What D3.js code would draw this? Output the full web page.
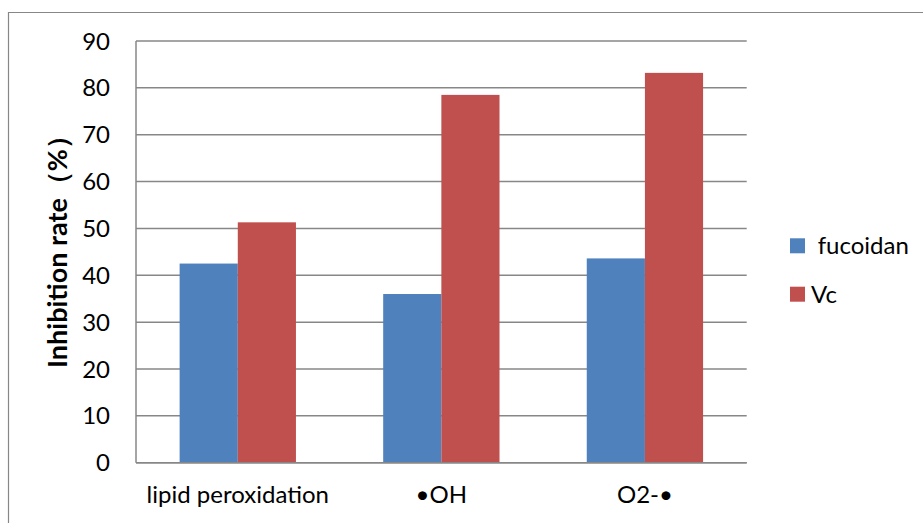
<!DOCTYPE html>
<html>
<head>
<meta charset="utf-8">
<script src="https://cdn.jsdelivr.net/npm/d3@7"></script>
<style>
  html, body { margin: 0; padding: 0; background: #fff; }
  svg { display: block; }
  text { font-family: Lato, "Open Sans", "Liberation Sans", sans-serif; fill: #000; }
</style>
</head>
<body>
<svg id="chart" width="923" height="523"></svg>
<script>
// Inhibition rate of fucoidan vs. vitamin C across three assays
const categories = ["lipid peroxidation", "\u2022OH", "O2-\u2022"];
const seriesNames = ["fucoidan", "Vc"];
const fucoidanValues = [42.5, 36.0, 43.6];
const vcValues = [51.3, 78.5, 83.2];
const yTicks = [0, 10, 20, 30, 40, 50, 60, 70, 80, 90];
const seriesColors = ["#4F81BD", "#C0504D"];
const yTitle = "Inhibition rate\uFF08%\uFF09";

const seriesValues = [fucoidanValues, vcValues];
const table = categories.map((c, i) => ({
  category: c,
  values: seriesNames.map((s, j) => ({ series: s, value: seriesValues[j][i] }))
}));

const svg = d3.select("#chart");
const plot = { left: 136, right: 746.7, top: 41, bottom: 462.7 };
const gridColor = "#878787";
const fontSize = 24;

// chart frame (left and top edges visible)
svg.append("path")
  .attr("d", "M8.5,523 V12.5 H923")
  .attr("fill", "none")
  .attr("stroke", gridColor)
  .attr("stroke-width", 1.2);

const y = d3.scaleLinear().domain([0, 90]).range([plot.bottom, plot.top]);
const x0 = d3.scaleBand().domain(categories).range([plot.left, plot.right]).padding(0);
const gap = x0.bandwidth() * 150 / 350;
const x1 = d3.scaleBand().domain(seriesNames)
  .range([gap / 2, x0.bandwidth() - gap / 2]).padding(0);
const color = d3.scaleOrdinal().domain(seriesNames).range(seriesColors);

// horizontal gridlines
svg.append("g")
  .selectAll("line")
  .data(yTicks)
  .join("line")
  .attr("x1", plot.left)
  .attr("x2", plot.right)
  .attr("y1", d => y(d))
  .attr("y2", d => y(d))
  .attr("stroke", gridColor)
  .attr("stroke-width", 1.5);

// y axis line
svg.append("line")
  .attr("x1", plot.left).attr("x2", plot.left)
  .attr("y1", plot.top).attr("y2", plot.bottom)
  .attr("stroke", gridColor)
  .attr("stroke-width", 1.5);

// y tick labels
svg.append("g")
  .selectAll("text")
  .data(yTicks)
  .join("text")
  .attr("x", 110)
  .attr("y", d => y(d))
  .attr("dy", "0.36em")
  .attr("text-anchor", "end")
  .attr("font-size", fontSize)
  .text(d => d);

// bars
const groups = svg.append("g")
  .selectAll("g")
  .data(table)
  .join("g")
  .attr("transform", d => `translate(${x0(d.category)},0)`);

groups.selectAll("rect")
  .data(d => d.values)
  .join("rect")
  .attr("x", d => x1(d.series))
  .attr("width", x1.bandwidth())
  .attr("y", d => y(d.value))
  .attr("height", d => y(0) - y(d.value))
  .attr("fill", d => color(d.series));

// x axis baseline
svg.append("line")
  .attr("x1", plot.left).attr("x2", plot.right)
  .attr("y1", y(0)).attr("y2", y(0))
  .attr("stroke", gridColor)
  .attr("stroke-width", 1.5);

// category labels
svg.append("g")
  .selectAll("text")
  .data(categories)
  .join("text")
  .attr("x", d => x0(d) + x0.bandwidth() / 2)
  .attr("y", 503)
  .attr("text-anchor", "middle")
  .attr("font-size", fontSize)
  .text(d => d);

// y axis title
svg.append("text")
  .attr("transform", "translate(67,245) rotate(-90)")
  .attr("text-anchor", "middle")
  .attr("font-size", 27)
  .attr("font-weight", "bold")
  .text(yTitle);

// legend
const legend = svg.append("g")
  .selectAll("g")
  .data(seriesNames)
  .join("g")
  .attr("transform", (d, i) => `translate(790,${238.3 + i * 48.4})`);

legend.append("rect")
  .attr("width", 15)
  .attr("height", 15)
  .attr("fill", d => color(d));

legend.append("text")
  .attr("x", (d, i) => i === 0 ? 27.7 : 21)
  .attr("y", 16)
  .attr("font-size", fontSize)
  .text(d => d);
</script>
</body>
</html>
